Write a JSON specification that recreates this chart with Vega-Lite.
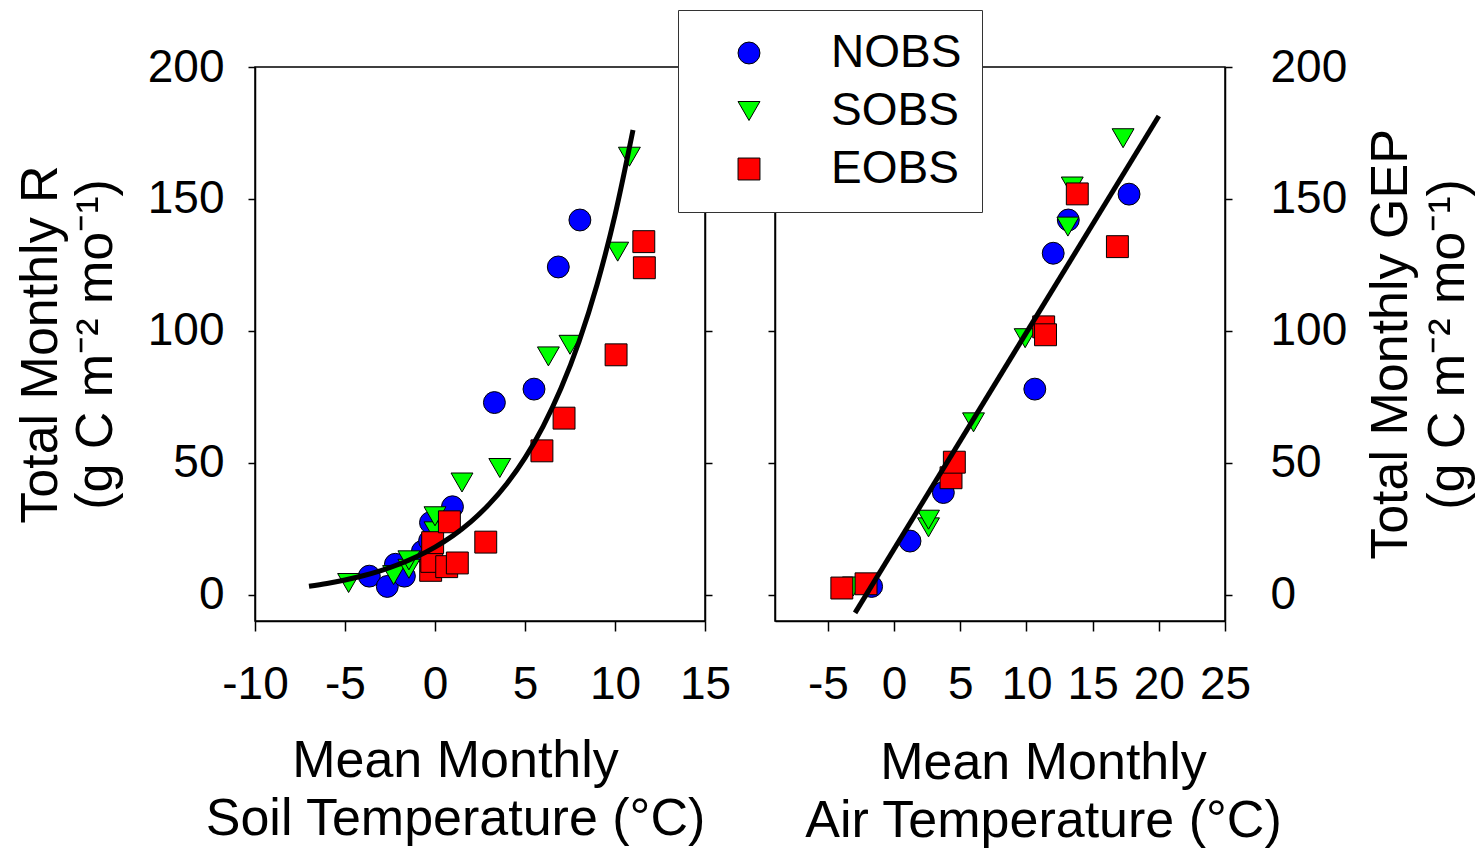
{
  "$schema": "https://vega.github.io/schema/vega-lite/v6.json",
  "autosize": {"type": "none"},
  "padding": {"left": 255, "top": 67, "right": 1228, "bottom": 782},
  "background": "white",
  "bounds": "flush",
  "spacing": 70,
  "config": {
    "font": "Liberation Sans",
    "view": {"stroke": "black", "strokeWidth": 1.5},
    "axis": {
      "domainColor": "black", "domainWidth": 1.5, "tickColor": "black", "tickWidth": 1.5,
      "labelColor": "black", "titleColor": "black", "labelFont": "Liberation Sans", "titleFont": "Liberation Sans",
      "labelFontSize": 46, "titleFontSize": 52, "titleFontWeight": "normal", "grid": false,
      "labelOverlap": false, "labelFlush": false, "labelExpr": "toString(datum.value)"
    },
    "legend": {
      "labelFont": "Liberation Sans", "labelFontSize": 46, "labelColor": "black"
    }
  },
  "datasets": {
    "soil": [
      {"site": "NOBS", "t": -3.65, "v": 7.0},
      {"site": "NOBS", "t": -2.65, "v": 3.1},
      {"site": "NOBS", "t": -2.2, "v": 11.5},
      {"site": "NOBS", "t": -1.7, "v": 7.0},
      {"site": "NOBS", "t": -0.7, "v": 16.4},
      {"site": "NOBS", "t": -0.3, "v": 20.4},
      {"site": "NOBS", "t": -0.25, "v": 27.3},
      {"site": "NOBS", "t": 0.97, "v": 33.3},
      {"site": "NOBS", "t": 3.3, "v": 72.8},
      {"site": "NOBS", "t": 5.5, "v": 77.9},
      {"site": "NOBS", "t": 6.85, "v": 124.2},
      {"site": "NOBS", "t": 8.05, "v": 142.0},
      {"site": "SOBS", "t": -4.8, "v": 4.4},
      {"site": "SOBS", "t": -2.3, "v": 7.4},
      {"site": "SOBS", "t": -1.45, "v": 9.8},
      {"site": "SOBS", "t": -1.45, "v": 13.0},
      {"site": "SOBS", "t": 0.0, "v": 24.0},
      {"site": "SOBS", "t": 0.0, "v": 29.7},
      {"site": "SOBS", "t": 1.5, "v": 42.5},
      {"site": "SOBS", "t": 3.6, "v": 48.0},
      {"site": "SOBS", "t": 6.3, "v": 90.3},
      {"site": "SOBS", "t": 7.5, "v": 94.7},
      {"site": "SOBS", "t": 10.15, "v": 130.0},
      {"site": "SOBS", "t": 10.8, "v": 166.0},
      {"site": "EOBS", "t": -0.24, "v": 9.2},
      {"site": "EOBS", "t": -0.18, "v": 12.6},
      {"site": "EOBS", "t": -0.13, "v": 19.7},
      {"site": "EOBS", "t": 0.65, "v": 10.6},
      {"site": "EOBS", "t": 0.8, "v": 27.6},
      {"site": "EOBS", "t": 1.24, "v": 12.0},
      {"site": "EOBS", "t": 2.82, "v": 19.9},
      {"site": "EOBS", "t": 5.94, "v": 54.5},
      {"site": "EOBS", "t": 7.17, "v": 66.9},
      {"site": "EOBS", "t": 10.06, "v": 90.9},
      {"site": "EOBS", "t": 11.6, "v": 133.8},
      {"site": "EOBS", "t": 11.63, "v": 123.9}
    ],
    "air": [
      {"site": "NOBS", "t": -1.7, "v": 3.1},
      {"site": "NOBS", "t": 1.2, "v": 20.3},
      {"site": "NOBS", "t": 3.72, "v": 38.7},
      {"site": "NOBS", "t": 10.63, "v": 77.9},
      {"site": "NOBS", "t": 12.02, "v": 129.4},
      {"site": "NOBS", "t": 13.16, "v": 142.0},
      {"site": "NOBS", "t": 17.75, "v": 151.8},
      {"site": "SOBS", "t": -3.08, "v": 3.1},
      {"site": "SOBS", "t": 2.6, "v": 25.5},
      {"site": "SOBS", "t": 2.6, "v": 28.4},
      {"site": "SOBS", "t": 6.0, "v": 65.3},
      {"site": "SOBS", "t": 9.9, "v": 97.2},
      {"site": "SOBS", "t": 13.13, "v": 139.5},
      {"site": "SOBS", "t": 13.46, "v": 154.7},
      {"site": "SOBS", "t": 17.3, "v": 173.0},
      {"site": "EOBS", "t": -3.95, "v": 2.5},
      {"site": "EOBS", "t": -2.12, "v": 4.1},
      {"site": "EOBS", "t": 4.3, "v": 44.3},
      {"site": "EOBS", "t": 4.55, "v": 50.2},
      {"site": "EOBS", "t": 11.3, "v": 101.5},
      {"site": "EOBS", "t": 11.44, "v": 98.5},
      {"site": "EOBS", "t": 13.84, "v": 151.9},
      {"site": "EOBS", "t": 16.87, "v": 131.9}
    ],
    "fitSoil": [
      {"t": -7, "v": 3.16}, {"t": -6, "v": 4.23}, {"t": -5, "v": 5.55}, {"t": -4, "v": 7.15},
      {"t": -3, "v": 9.11}, {"t": -2, "v": 11.51}, {"t": -1, "v": 14.43}, {"t": 0, "v": 18.0},
      {"t": 1, "v": 22.36}, {"t": 2, "v": 27.69}, {"t": 3, "v": 34.2}, {"t": 4, "v": 42.14},
      {"t": 5, "v": 51.85}, {"t": 6, "v": 63.71}, {"t": 7, "v": 78.19}, {"t": 8, "v": 95.87},
      {"t": 9, "v": 117.48}, {"t": 10, "v": 143.87}, {"t": 11, "v": 176.09}
    ],
    "fitAir": [
      {"t": -2.95, "v": -6.9},
      {"t": 20.0, "v": 181.4}
    ]
  },
  "hconcat": [
    {
      "width": 450,
      "height": 554,
      "resolve": {"axis": {"y": "independent"}},
      "layer": [
        {
          "data": {"name": "soil"},
          "mark": {"type": "point", "filled": true, "stroke": "black", "strokeWidth": 1, "opacity": 1, "size": 480},
          "encoding": {
            "x": {
              "field": "t", "type": "quantitative",
              "scale": {"domain": [-10, 15], "nice": false, "zero": false},
              "axis": {
                "orient": "bottom", "values": [-10, -5, 0, 5, 10, 15], "tickSize": 10, "labelPadding": 31,
                "title": ["Mean Monthly", "Soil Temperature (°C)"],
                "titleX": 200, "titleY": 139, "titleAlign": "center", "titleBaseline": "middle", "titleLineHeight": 58, "titleAnchor": null
              }
            },
            "y": {
              "field": "v", "type": "quantitative",
              "scale": {"domain": [-10, 200], "nice": false, "zero": false},
              "axis": {
                "orient": "left", "values": [0, 50, 100, 150, 200], "tickSize": 7, "labelPadding": 24,
                "title": ["Total Monthly R", "(g C m⁻² mo⁻¹)"],
                "titleAngle": 270, "titleX": -215, "titleY": 277, "titleAlign": "center", "titleBaseline": "middle", "titleLineHeight": 55, "titleAnchor": null
              }
            },
            "color": {
              "field": "site", "type": "nominal",
              "scale": {"domain": ["NOBS", "SOBS", "EOBS"], "range": ["#0000FF", "#00FF00", "#FF0000"]},
              "legend": {
                "orient": "none", "legendX": 423, "legendY": -57, "title": null,
                "strokeColor": "#333333", "fillColor": "white", "padding": 20,
                "symbolOffset": 28, "labelOffset": 59, "rowPadding": 12,
                "symbolSize": 480, "symbolStrokeColor": "black", "symbolStrokeWidth": 1
              }
            },
            "shape": {
              "field": "site", "type": "nominal",
              "scale": {"domain": ["NOBS", "SOBS", "EOBS"], "range": ["circle", "triangle-down", "square"]},
              "legend": {
                "orient": "none", "legendX": 423, "legendY": -57, "title": null,
                "strokeColor": "#333333", "fillColor": "white", "padding": 20,
                "symbolOffset": 28, "labelOffset": 59, "rowPadding": 12,
                "symbolSize": 480, "symbolStrokeColor": "black", "symbolStrokeWidth": 1
              }
            }
          }
        },
        {
          "data": {"name": "fitSoil"},
          "mark": {"type": "line", "color": "black", "strokeWidth": 5, "interpolate": "monotone"},
          "encoding": {
            "x": {"field": "t", "type": "quantitative"},
            "y": {
              "field": "v", "type": "quantitative",
              "axis": {"orient": "right", "values": [0, 50, 100, 150, 200], "tickSize": 7, "labels": false, "title": null}
            }
          }
        }
      ]
    },
    {
      "width": 450,
      "height": 554,
      "resolve": {"axis": {"y": "independent"}},
      "layer": [
        {
          "data": {"name": "air"},
          "mark": {"type": "point", "filled": true, "stroke": "black", "strokeWidth": 1, "opacity": 1, "size": 480},
          "encoding": {
            "x": {
              "field": "t", "type": "quantitative",
              "scale": {"domain": [-9, 25], "nice": false, "zero": false},
              "axis": {
                "orient": "bottom", "values": [-5, 0, 5, 10, 15, 20, 25], "tickSize": 10, "labelPadding": 31,
                "title": ["Mean Monthly", "Air Temperature (°C)"],
                "titleX": 268, "titleY": 141, "titleAlign": "center", "titleBaseline": "middle", "titleLineHeight": 58, "titleAnchor": null
              }
            },
            "y": {
              "field": "v", "type": "quantitative",
              "scale": {"domain": [-10, 200], "nice": false, "zero": false},
              "axis": {"orient": "left", "values": [0, 50, 100, 150, 200], "tickSize": 7, "labels": false, "title": null}
            },
            "color": {
              "field": "site", "type": "nominal",
              "scale": {"domain": ["NOBS", "SOBS", "EOBS"], "range": ["#0000FF", "#00FF00", "#FF0000"]}
            },
            "shape": {
              "field": "site", "type": "nominal",
              "scale": {"domain": ["NOBS", "SOBS", "EOBS"], "range": ["circle", "triangle-down", "square"]}
            }
          }
        },
        {
          "data": {"name": "fitAir"},
          "mark": {"type": "line", "color": "black", "strokeWidth": 5},
          "encoding": {
            "x": {"field": "t", "type": "quantitative"},
            "y": {
              "field": "v", "type": "quantitative",
              "axis": {
                "orient": "right", "values": [0, 50, 100, 150, 200], "tickSize": 7, "labelPadding": 38, "labelAlign": "left",
                "title": ["Total Monthly GEP", "(g C m⁻² mo⁻¹)"],
                "titleAngle": 270, "titleX": 165, "titleY": 277, "titleAlign": "center", "titleBaseline": "middle", "titleLineHeight": 57, "titleAnchor": null
              }
            }
          }
        }
      ]
    }
  ]
}
